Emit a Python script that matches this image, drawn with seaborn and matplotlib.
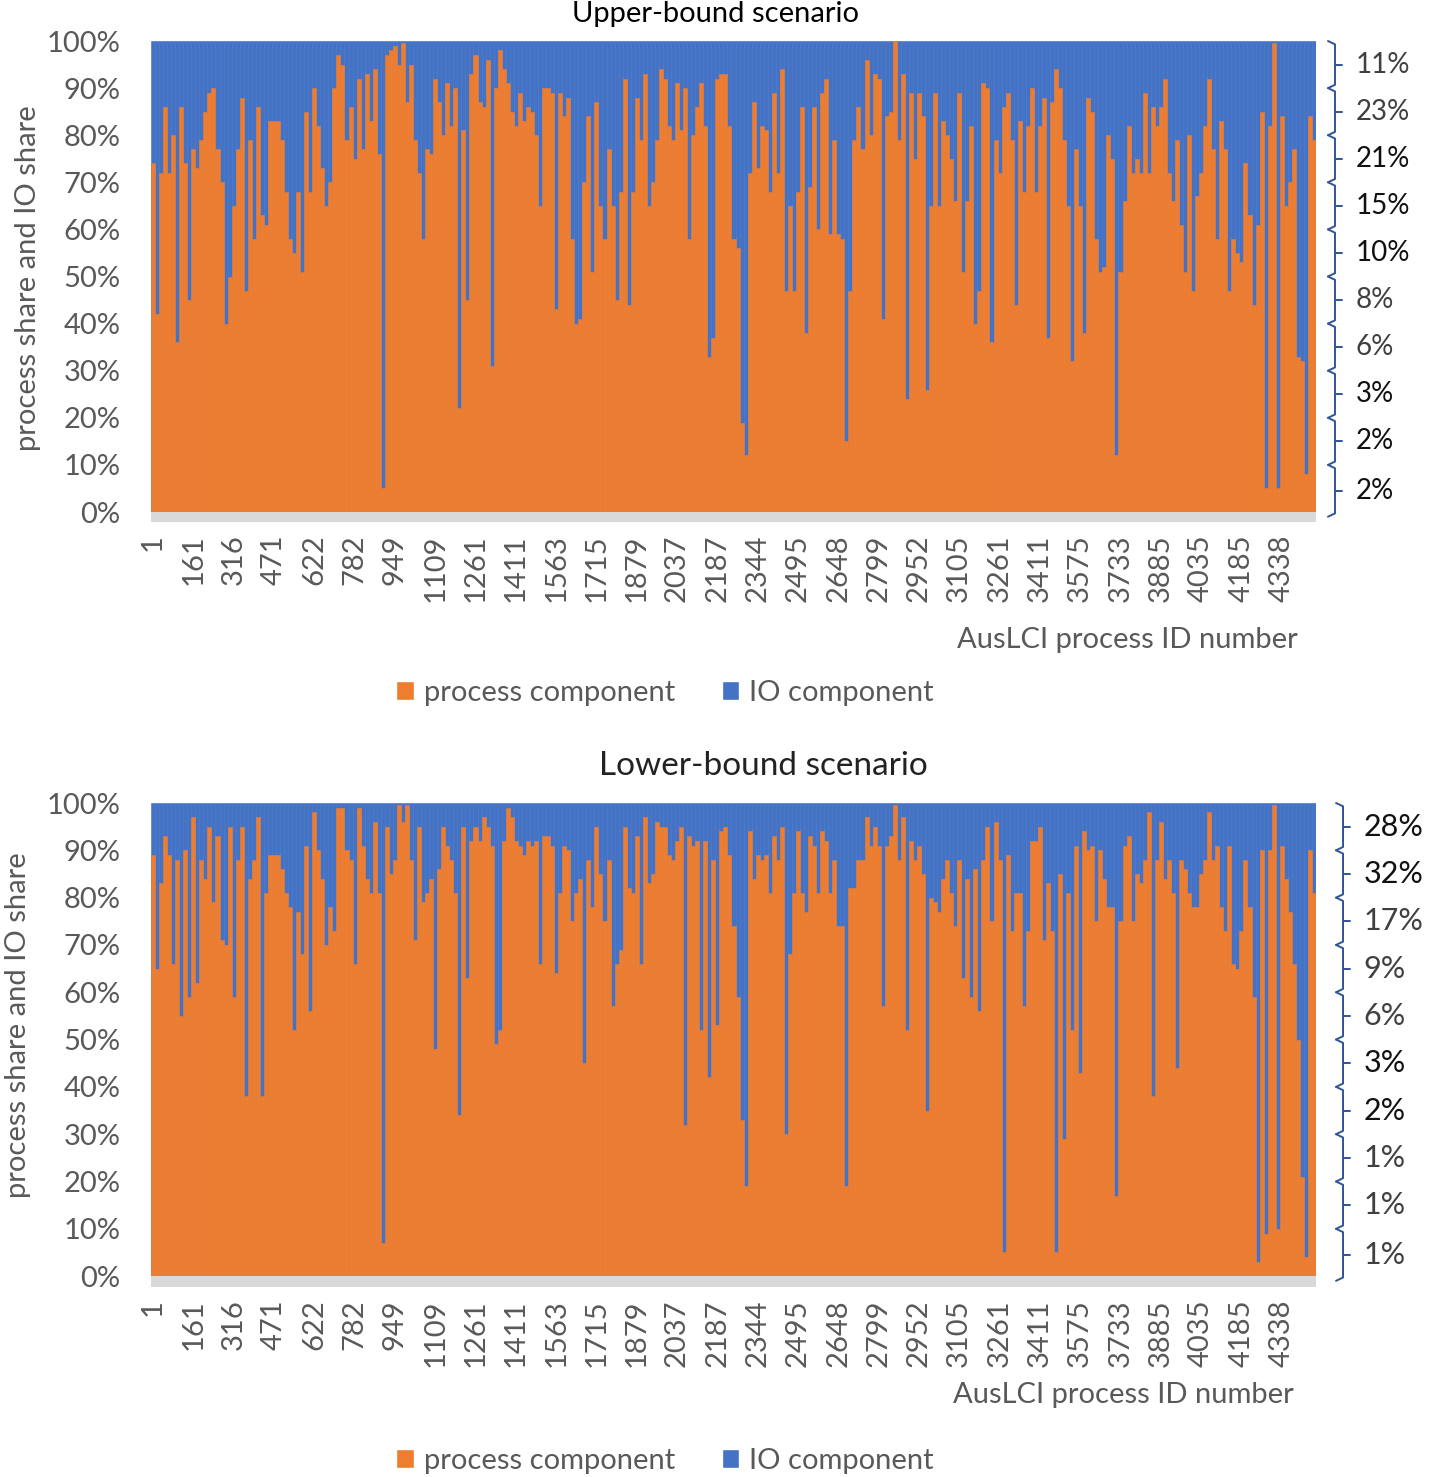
import numpy as np
import pandas as pd
import matplotlib
matplotlib.use("Agg")
import matplotlib.pyplot as plt
import matplotlib.transforms as mtransforms
from matplotlib.patches import Patch
import seaborn as sns

# process share (%) per bar (10 bars per labelled tick)
upper_process = [
    74, 42, 72, 86, 72, 80, 36, 86, 74, 45,
    77, 73, 79, 85, 89, 90, 77, 70, 40, 50,
    65, 77, 88, 47, 79, 58, 86, 63, 61, 83,
    83, 83, 79, 68, 58, 55, 68, 51, 85, 68,
    90, 82, 73, 65, 70, 90, 97, 95, 79, 86,
    75, 92, 77, 93, 83, 94, 76, 5, 97, 98,
    99, 95, 99.5, 87, 95, 79, 72, 58, 77, 76,
    92, 87, 80, 91, 82, 90, 22, 81, 45, 93,
    97, 87, 86, 96, 31, 90, 98, 94, 91, 85,
    82, 89, 83, 86, 85, 80, 65, 90, 90, 89,
    43, 89, 84, 88, 58, 40, 41, 70, 84, 51,
    87, 65, 58, 77, 65, 45, 68, 92, 44, 68,
    88, 79, 93, 65, 70, 79, 94, 92, 82, 79,
    91, 81, 90, 58, 80, 86, 91, 82, 33, 37,
    92, 93, 93, 82, 58, 56, 19, 12, 72, 87,
    73, 82, 81, 68, 89, 72, 94, 47, 65, 47,
    68, 86, 38, 69, 86, 60, 89, 92, 59, 79,
    59, 58, 15, 47, 79, 86, 77, 96, 80, 93,
    92, 41, 84, 85, 100, 79, 93, 24, 89, 75,
    89, 84, 26, 65, 89, 65, 83, 80, 75, 66,
    89, 51, 66, 82, 40, 47, 91, 90, 36, 79,
    72, 86, 89, 79, 44, 83, 68, 82, 90, 68,
    82, 88, 37, 87, 94, 90, 79, 65, 32, 77,
    65, 38, 88, 85, 58, 51, 52, 80, 75, 12,
    51, 66, 82, 72, 75, 72, 89, 72, 86, 82,
    86, 92, 72, 66, 79, 61, 51, 80, 47, 67,
    72, 82, 92, 77, 58, 83, 77, 47, 58, 55,
    53, 74, 63, 44, 61, 85, 5, 82, 99.5, 5,
    84, 65, 70, 77, 33, 32, 8, 84, 79,
]

lower_process = [
    89, 65, 83, 93, 89, 66, 88, 55, 90, 59,
    97, 62, 88, 84, 95, 79, 93, 71, 70, 95,
    59, 88, 95, 38, 84, 88, 97, 38, 81, 89,
    89, 89, 86, 81, 78, 52, 77, 68, 91, 56,
    98, 90, 84, 70, 78, 73, 99, 99, 90, 88,
    66, 99, 91, 84, 81, 96, 81, 7, 95, 85,
    88, 99.5, 96, 99.5, 88, 71, 95, 79, 81, 84,
    48, 86, 95, 91, 88, 81, 34, 95, 63, 92,
    95, 92, 97, 95, 91, 49, 52, 92, 99, 97,
    92, 91, 89, 92, 91, 92, 66, 93, 93, 91,
    64, 81, 91, 90, 75, 81, 84, 45, 88, 78,
    95, 85, 75, 88, 57, 66, 69, 95, 82, 81,
    93, 66, 97, 83, 85, 96, 95, 95, 89, 88,
    92, 95, 32, 93, 91, 92, 52, 92, 42, 88,
    53, 94, 95, 89, 74, 59, 33, 19, 94, 84,
    89, 88, 89, 81, 93, 88, 95, 30, 68, 81,
    94, 81, 77, 93, 91, 81, 94, 92, 81, 88,
    74, 74, 19, 82, 82, 88, 88, 97, 91, 95,
    91, 57, 91, 93, 99.5, 88, 97, 52, 92, 88,
    91, 85, 35, 80, 79, 77, 84, 88, 81, 74,
    88, 63, 84, 59, 86, 56, 88, 95, 75, 96,
    88, 5, 89, 73, 81, 81, 57, 73, 92, 92,
    95, 71, 83, 73, 5, 85, 29, 81, 52, 91,
    43, 94, 90, 91, 75, 90, 84, 78, 78, 17,
    75, 91, 93, 75, 85, 83, 88, 98, 38, 88,
    96, 84, 88, 81, 44, 88, 86, 81, 78, 78,
    85, 88, 98, 88, 91, 78, 73, 91, 66, 65,
    73, 88, 78, 59, 3, 90, 9, 90, 99.5, 10,
    91, 84, 77, 66, 50, 21, 4, 90, 81,
]

tick_labels = ["1", "161", "316", "471", "622", "782", "949", "1109", "1261",
               "1411", "1563", "1715", "1879", "2037", "2187", "2344", "2495",
               "2648", "2799", "2952", "3105", "3261", "3411", "3575", "3733",
               "3885", "4035", "4185", "4338"]
bars_per_tick = 10

upper_brace = ["11%", "23%", "21%", "15%", "10%", "8%", "6%", "3%", "2%", "2%"]
lower_brace = ["28%", "32%", "17%", "9%", "6%", "3%", "2%", "1%", "1%", "1%"]
upper_brace_dark = [False, False, True, True, True, False, False, True, True, True]
lower_brace_dark = [True, True, False, False, False, True, True, False, False, False]

ORANGE = "#ED7D31"
BLUE = "#4472C4"
GREY_TXT = "#595959"
BRACE = "#2F5597"

sns.set_style("white")
plt.rcParams["font.family"] = ["Lato", "DejaVu Sans"]

W, H = 1429, 1477
fig = plt.figure(figsize=(W / 100, H / 100), dpi=100)


def fx(px):
    return px / W


def fy(px):
    return 1 - px / H


def draw_panel(ax, process, band):
    df = pd.DataFrame({"bar": np.arange(len(process)),
                       "process": process})
    df["total"] = 100.0
    sns.barplot(data=df, x="bar", y="total", color=BLUE, saturation=1,
                width=1.0, linewidth=0.4, edgecolor=BLUE, errorbar=None, ax=ax)
    sns.barplot(data=df, x="bar", y="process", color=ORANGE, saturation=1,
                width=1.0, linewidth=0.4, edgecolor=ORANGE, errorbar=None, ax=ax)
    ax.axhspan(-band, 0, color="#D9D9D9", lw=0)
    ax.set_xlim(-0.5, len(process) - 0.5)
    ax.set_ylim(-band, 100)
    ax.set_yticks(np.arange(0, 101, 10))
    ax.set_yticklabels([f"{v}%" for v in range(0, 101, 10)])
    pos = np.arange(len(tick_labels)) * bars_per_tick
    ax.set_xticks(pos)
    ax.set_xticklabels(tick_labels, rotation=90)
    ax.tick_params(axis="y", length=0, pad=22, labelsize=21, labelcolor=GREY_TXT)
    ax.tick_params(axis="x", length=0, pad=9, labelsize=21, labelcolor=GREY_TXT)
    ax.set_xlabel("")
    ax.set_ylabel("")
    for s in ax.spines.values():
        s.set_visible(False)


def draw_braces(ax, labels, dark, xb, xt, fs):
    tr = mtransforms.blended_transform_factory(ax.transAxes, ax.transData)
    hook = 0.006
    for k, lab in enumerate(labels):
        top = 100 - 10 * k
        bot = top - 10 if k < 9 else -1
        mid = (top + bot) / 2
        ax.plot([xb - hook, xb, xb, xb - hook], [top, top - 0.7, bot + 0.7, bot],
                transform=tr, clip_on=False, color=BRACE, lw=1.4)
        ax.plot([xb, xb + hook], [mid, mid], transform=tr, clip_on=False,
                color=BRACE, lw=1.4)
        ax.text(xt, mid, lab, transform=tr, ha="left", va="center",
                fontsize=fs, color="#111111" if dark[k] else "#404040")


# upper panel
ax1 = fig.add_axes([fx(151), fy(522), fx(1165), 481 / H])
draw_panel(ax1, upper_process, 2.12)
draw_braces(ax1, upper_brace, upper_brace_dark, 1.0163, 1.034, 20)
fig.text(fx(715), fy(14), "Upper-bound scenario", ha="center", va="center",
         fontsize=21, color="black")
fig.text(fx(28), fy(278), "process share and IO share", rotation=90,
         ha="center", va="center", fontsize=21, color=GREY_TXT)
fig.text(fx(1298), fy(640), "AusLCI process ID number", ha="right",
         va="center", fontsize=21, color=GREY_TXT)

# lower panel
ax2 = fig.add_axes([fx(151), fy(1287), fx(1165), 484 / H])
draw_panel(ax2, lower_process, 2.3)
draw_braces(ax2, lower_brace, lower_brace_dark, 1.0232, 1.041, 22)
fig.text(fx(763), fy(766), "Lower-bound scenario", ha="center", va="center",
         fontsize=24, color="#222222")
fig.text(fx(18), fy(1025), "process share and IO share", rotation=90,
         ha="center", va="center", fontsize=21, color=GREY_TXT)
fig.text(fx(1294), fy(1395), "AusLCI process ID number", ha="right",
         va="center", fontsize=21, color=GREY_TXT)

handles = [Patch(facecolor=ORANGE, label="process component"),
           Patch(facecolor=BLUE, label="IO component")]
for yc in (693, 1461):
    fig.legend(handles=handles, loc="center", bbox_to_anchor=(fx(665), fy(yc)),
               ncol=2, frameon=False, fontsize=21, handlelength=0.6,
               handleheight=0.6, handletextpad=0.35, columnspacing=1.6,
               labelcolor=GREY_TXT)

fig.savefig("out.png", dpi=100)
